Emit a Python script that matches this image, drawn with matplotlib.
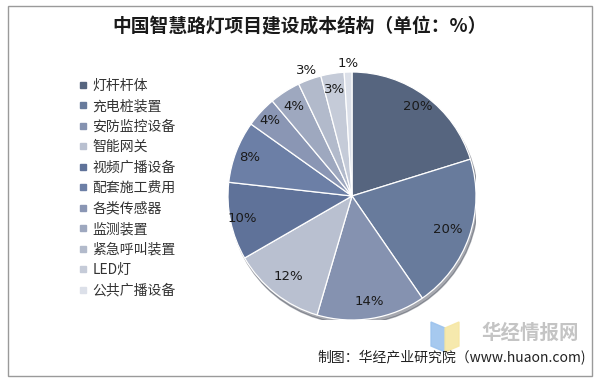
import matplotlib
matplotlib.use('Agg')
import numpy as np
import matplotlib.pyplot as plt
from matplotlib.patches import Rectangle, Polygon, Circle
from matplotlib.lines import Line2D

plt.rcParams['font.family'] = ['Noto Sans CJK SC', 'DejaVu Sans']

title = '中国智慧路灯项目建设成本结构（单位：%）'
labels = ['灯杆杆体', '充电桩装置', '安防监控设备', '智能网关', '视频广播设备', '配套施工费用',
          '各类传感器', '监测装置', '紧急呼叫装置', 'LED灯', '公共广播设备']
values = [20, 20, 14, 12, 10, 8, 4, 4, 3, 3, 1]
colors = ['#56657f', '#687b9c', '#8592b0', '#b9c0d0', '#5f7299', '#6c7fa6',
          '#8a96b4', '#9ea8bf', '#b2bacb', '#c5cbd8', '#dce0e9']
label_dist = [0.9, 0.82, 0.86, 0.83, 0.9, 0.88, 0.9, 0.86, 1.08, 0.87, 1.07]
source = '制图：华经产业研究院（www.huaon.com)'

fig = plt.figure(figsize=(6, 3.81), dpi=100)

# frame
fig.patches.append(Rectangle((8 / 600, 5 / 381), 584 / 600, 370 / 381, transform=fig.transFigure,
                             fill=False, edgecolor='#9a9a9a', linewidth=1))

fig.text(0.5, 1 - 26 / 381, title, ha='center', va='center', fontsize=13.5,
         fontweight='bold', color='#1a1a1a')

cx, cy, r = 352, 196, 124
ax = fig.add_axes([(cx - r) / 600, (381 - cy - r) / 381, 2 * r / 600, 2 * r / 381])
ax.add_patch(Circle((0.015, -0.03), 1.0, color='#3c4250', alpha=0.45, zorder=0))
wedges, texts, autotexts = ax.pie(values, colors=colors, startangle=90, counterclock=False,
                                  autopct='%d%%', pctdistance=0.87,
                                  wedgeprops=dict(edgecolor='white', linewidth=0.9),
                                  textprops=dict(fontsize=9.5, color='#1a1a1a',
                                                 family=['DejaVu Sans']))
for w, t, d in zip(wedges, autotexts, label_dist):
    ang = np.deg2rad((w.theta1 + w.theta2) / 2)
    t.set_position((d * np.cos(ang), d * np.sin(ang)))
ax.set_xlim(-1, 1)
ax.set_ylim(-1, 1)
ax.set_aspect('equal')
ax.axis('off')

handles = [Line2D([], [], marker='s', linestyle='none', markersize=4, markerfacecolor=c,
                  markeredgecolor=c) for c in colors]
fig.legend(handles, labels, loc='upper left', bbox_to_anchor=(66 / 600, 1 - 66 / 381),
           frameon=False, fontsize=10, labelspacing=0.47, handlelength=0.6, handletextpad=0.4,
           labelcolor='#333333')

# watermark
fig.patches.append(Polygon([(431 / 600, 1 - 322 / 381), (445 / 600, 1 - 328 / 381),
                            (445 / 600, 1 - 352 / 381), (431 / 600, 1 - 346 / 381)],
                           transform=fig.transFigure, color='#9cc3ee', alpha=0.9))
fig.patches.append(Polygon([(445 / 600, 1 - 328 / 381), (459 / 600, 1 - 322 / 381),
                            (459 / 600, 1 - 346 / 381), (445 / 600, 1 - 352 / 381)],
                           transform=fig.transFigure, color='#f6e7a4', alpha=0.9))
fig.text(530 / 600, 1 - 333 / 381, '华经情报网', ha='center', va='center', fontsize=14,
         fontweight='bold', color='#c4c4c4')

fig.text(586 / 600, 1 - 358 / 381, source, ha='right', va='center', fontsize=10, color='#222222')

fig.savefig('out.png', dpi=100)
